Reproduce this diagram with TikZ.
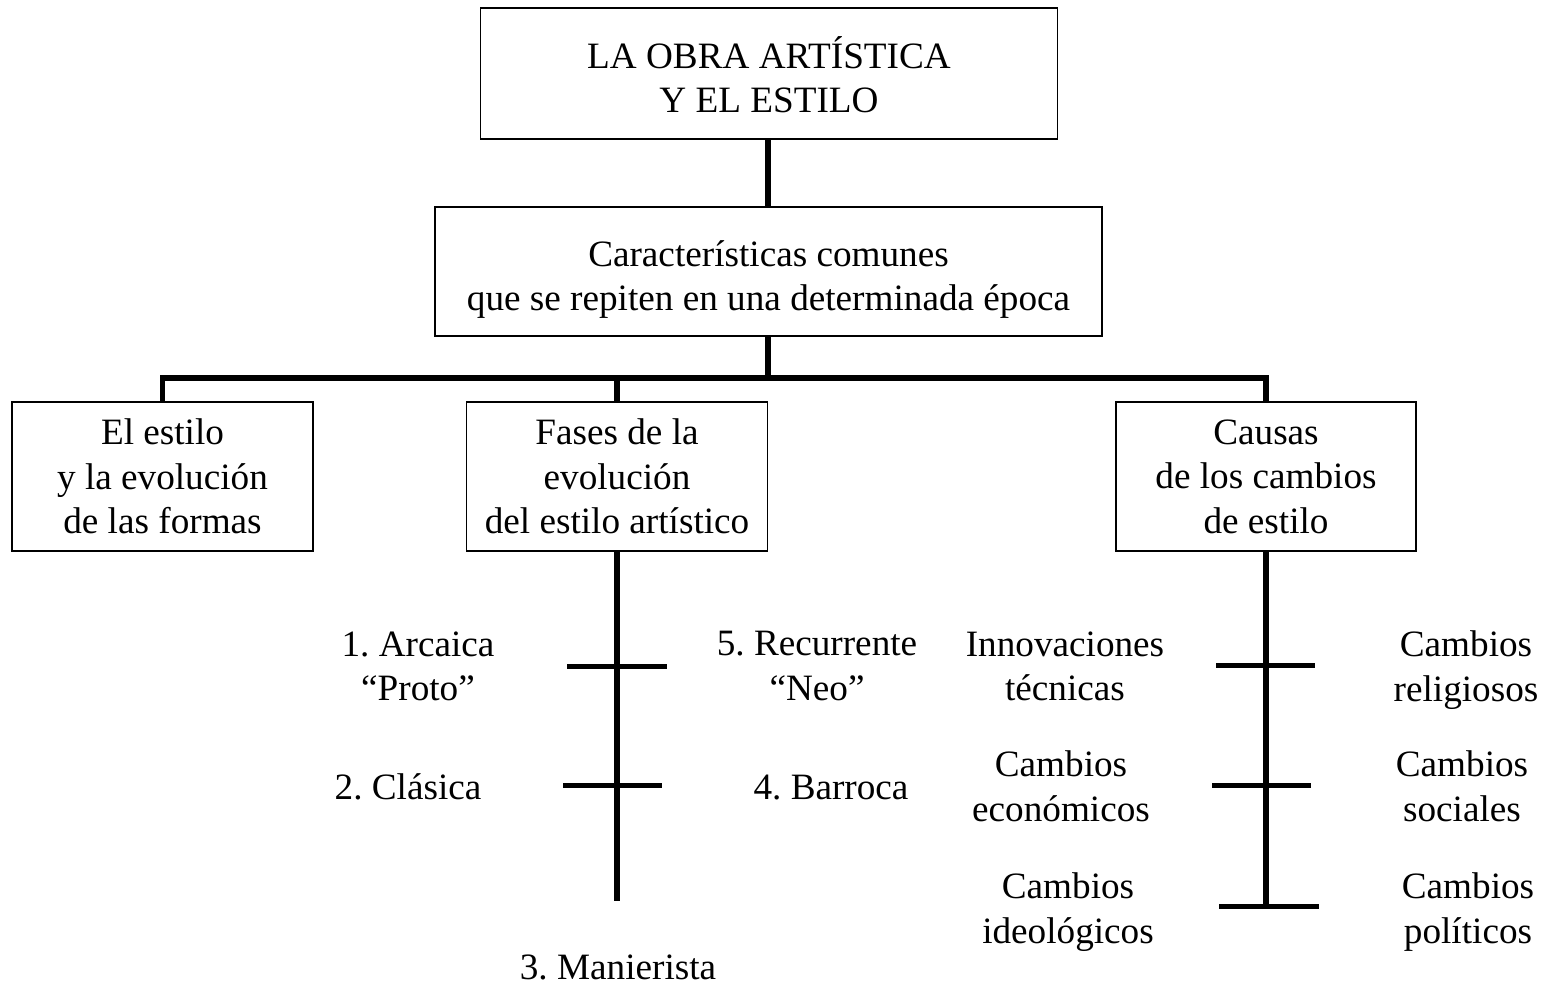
\documentclass[tikz,border=0pt]{standalone}
\usepackage{fontspec}
\setmainfont{Liberation Serif}
\frenchspacing
\tikzset{
	caja/.style={draw, line width=0.9pt, align=center, inner sep=0pt},
	cajados/.style={caja, text height=39.2pt, text depth=0pt},
	rama/.style={line width=2.7pt},
	marca/.style={line width=2.5pt},
	rotulo/.style={align=center, inner sep=0pt, text depth=0pt},
}

\begin{document}
\begin{tikzpicture}[x=0.5pt,y=0.5pt,yscale=-1,xscale=1,font=\fontsize{18.6}{22.2}\selectfont]
\useasboundingbox (0,0) rectangle (1546,987);

% cajas
\node[cajados, minimum width=288.5pt, minimum height=65.5pt] (obra) at (769,73.5) {LA OBRA ARTÍSTICA\\Y EL ESTILO};
\node[cajados, minimum width=333.5pt, minimum height=64.5pt] (rasgos) at (768.5,271.5) {Características comunes\\que se repiten en una determinada época};
\node[caja, minimum width=150.5pt, minimum height=74.5pt] (formas) at (162.5,476.5) {El estilo\\y la evolución\\de las formas};
\node[caja, minimum width=150.5pt, minimum height=74.5pt] (fases) at (617,476.5) {Fases de la\\evolución\\del estilo artístico};
\node[caja, minimum width=150pt, minimum height=74.5pt] (causas) at (1266,476.5) {Causas\\de los cambios\\de estilo};

\coordinate (cruce) at (768,378);
\coordinate (finfases) at (617,901);
\coordinate (fincausas) at (1266,906);

\draw[rama] (obra.south -| cruce) -- (rasgos.north -| cruce);
\draw[rama] (rasgos.south -| cruce) -- (cruce);
\draw[rama] (formas) |- (cruce);
\draw[rama] (fases) |- (cruce);
\draw[rama] (causas) |- (cruce);
\draw[rama] (fases) -- (finfases);
\draw[rama] (causas) -- (fincausas);

% marcas
\draw[marca] (567,666) -- (667,666);
\draw[marca] (563,785) -- (662,785);
\draw[marca] (1216,665) -- (1315,665);
\draw[marca] (1212,785) -- (1311,785);
\draw[marca] (1219,906) -- (1319,906);

% fases
\node[rotulo] (arcaica) at (418,666) {1. Arcaica\\“Proto”};
\node[rotulo] (clasica) at (408,787) {2. Clásica};
\node[rotulo] (manierista) at (618,967) {3. Manierista};
\node[rotulo] (barroca) at (831,787) {4. Barroca};
\node[rotulo] (recurrente) at (817,666) {5. Recurrente\\“Neo”};

% causas
\node[rotulo] (tecnicas) at (1065,666) {Innovaciones\\técnicas};
\node[rotulo] (economicos) at (1061,786) {Cambios\\económicos};
\node[rotulo] (ideologicos) at (1068,908) {Cambios\\ideológicos};
\node[rotulo] (religiosos) at (1466,666) {Cambios\\religiosos};
\node[rotulo] (sociales) at (1462,786) {Cambios\\sociales};
\node[rotulo] (politicos) at (1468,908) {Cambios\\políticos};

\end{tikzpicture}
\end{document}
